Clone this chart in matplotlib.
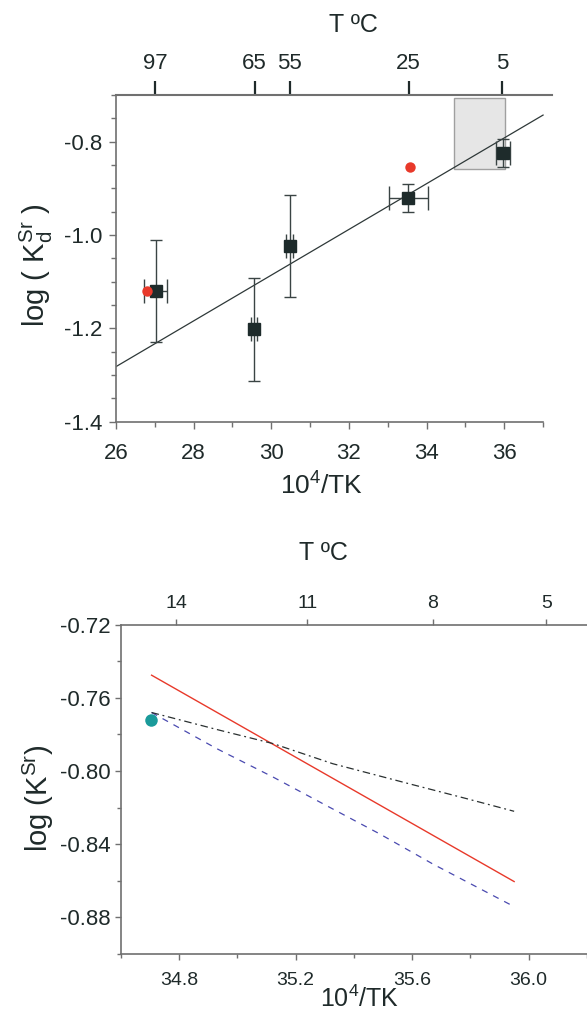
import matplotlib
matplotlib.use("Agg")
import matplotlib.pyplot as plt
from matplotlib.patches import Rectangle
from matplotlib.ticker import MultipleLocator

plt.rcParams['font.family'] = ['Liberation Sans', 'DejaVu Sans']
plt.rcParams['mathtext.fontset'] = 'custom'
plt.rcParams['mathtext.rm'] = 'Liberation Sans'
plt.rcParams['mathtext.it'] = 'Liberation Sans'

# ---------------- data: top panel ----------------
inv_T = [27.02, 29.56, 30.47, 33.53, 35.97]
log_kd = [-1.120, -1.202, -1.0235, -0.921, -0.824]
log_kd_err = [0.11, 0.11, 0.11, 0.03, 0.03]
inv_T_err = [0.30, 0.08, 0.08, 0.50, 0.18]
red_x = [26.80, 33.56]
red_y = [-1.120, -0.854]
fit_x = [26.0, 37.0]
fit_y = [-1.282, -0.743]
box_x = [34.70, 36.03]
box_y = [-0.858, -0.707]
top_tC = [97, 65, 55, 25, 5]
top_ticks = [1e4 / (t + 273.15) for t in top_tC]

# ---------------- data: bottom panel ----------------
red_line_x = [34.706, 35.95]
red_line_y = [-0.7476, -0.8604]
blue_x = [34.706, 34.929, 35.123, 35.305, 35.488, 35.671, 35.95]
blue_y = [-0.768, -0.7877, -0.8033, -0.8188, -0.8343, -0.8508, -0.8741]
black_x = [34.706, 34.94, 35.123, 35.328, 35.591, 35.785, 35.95]
black_y = [-0.768, -0.7777, -0.785, -0.796, -0.807, -0.815, -0.822]
teal_x = [34.704]
teal_y = [-0.7722]
bot_top_labels = ['14', '11', '8', '5']
bot_top_ticks = [34.79, 35.24, 35.67, 36.06]

TXT = '#1f2a2a'
SPN = '#707070'
W, H = 587, 1015
fig = plt.figure(figsize=(W / 100, H / 100), dpi=100)

# ================= top panel =================
ax1 = fig.add_axes([116 / W, 1 - 421.7 / H, (552 - 116) / W, (421.7 - 95) / H])
ax1.set_xlim(26, 37.23)
ax1.set_ylim(-1.4, -0.7)
ax1.add_patch(Rectangle((box_x[0], box_y[0]), box_x[1] - box_x[0], box_y[1] - box_y[0],
                        facecolor='#e6e6e6', edgecolor='#a0a0a0', lw=1.0, zorder=1))
ax1.plot(fit_x, fit_y, color='#2e3838', lw=0.9, zorder=2)
ax1.errorbar(inv_T, log_kd, yerr=log_kd_err, fmt='none', ecolor='#3a4444',
             elinewidth=1.0, capsize=4.3, capthick=1.0, zorder=3)
ax1.errorbar(inv_T, log_kd, xerr=inv_T_err, fmt='none', ecolor='#3a4444',
             elinewidth=1.0, capsize=8.3, capthick=1.0, zorder=3)
ax1.plot(inv_T, log_kd, 's', color='#1e2b2b', ms=8, zorder=4)
ax1.plot(red_x, red_y, 'o', color='#e8392a', ms=7.5, mec='none', zorder=5)

ax1.xaxis.set_minor_locator(MultipleLocator(1))
ax1.yaxis.set_minor_locator(MultipleLocator(0.05))
ax1.set_yticks([-1.4, -1.2, -1.0, -0.8])
ax1.set_yticklabels(['-1.4', '-1.2', '-1.0', '-0.8'])
ax1.set_xticks([26, 28, 30, 32, 34, 36])
ax1.set_xticklabels(['26', '28', '30', '32', '34', '36'])
ax1.tick_params(axis='both', which='major', direction='out', length=5, width=1,
                colors=SPN, labelcolor=TXT, labelsize=16)
ax1.tick_params(axis='both', which='minor', direction='out', length=3.5, width=1, colors=SPN)
ax1.tick_params(axis='x', pad=10)
ax1.tick_params(axis='y', pad=5)
ax1.spines['right'].set_visible(False)
ax1.spines['top'].set_visible(False)
for s in ['left', 'bottom']:
    ax1.spines[s].set_color(SPN)
    ax1.spines[s].set_linewidth(1.2)
ax1.spines['bottom'].set_bounds(26, 37)

ax1t = ax1.twiny()
ax1t.set_xlim(ax1.get_xlim())
ax1t.set_xticks(top_ticks)
ax1t.set_xticklabels([str(t) for t in top_tC])
ax1t.tick_params(axis='x', direction='out', length=10, width=1.6, color=TXT,
                 labelcolor=TXT, labelsize=16, pad=5)
for s in ['left', 'right', 'bottom']:
    ax1t.spines[s].set_visible(False)
ax1t.spines['top'].set_color(SPN)
ax1t.spines['top'].set_linewidth(1.5)

fig.text(353 / W, 1 - 25 / H, 'T ºC', ha='center', va='center', fontsize=18, color=TXT)
fig.text(322 / W, 1 - 486 / H, r'10$^{\mathregular{4}}$/TK', ha='center', va='center',
         fontsize=19, color=TXT)
fig.text(36 / W, 1 - 265 / H, r'log ( K$_{\mathregular{d}}^{\mathregular{Sr}}$ )',
         ha='center', va='center', rotation=90, fontsize=21, color=TXT)

# ================= bottom panel =================
ax2 = fig.add_axes([120.7 / W, 1 - 954 / H, (587 - 120.7) / W, (954 - 624.7) / H])
ax2.set_xlim(34.6, 36.2)
ax2.set_ylim(-0.90, -0.72)
ax2.plot(red_line_x, red_line_y, color='#e8392a', lw=1.0)
ax2.plot(blue_x, blue_y, color='#4a4ab0', lw=0.9, dashes=(5, 5))
ax2.plot(black_x, black_y, color='#2a3030', lw=0.9, dashes=(6, 3, 1.5, 3))
ax2.plot(teal_x, teal_y, 'o', color='#1a9a9a', ms=9, mec='none', zorder=5)

ax2.set_xticks([34.8, 35.2, 35.6, 36.0])
ax2.set_xticklabels(['34.8', '35.2', '35.6', '36.0'])
ax2.xaxis.set_minor_locator(MultipleLocator(0.2))
ax2.set_yticks([-0.88, -0.84, -0.80, -0.76, -0.72])
ax2.set_yticklabels(['-0.88', '-0.84', '-0.80', '-0.76', '-0.72'])
ax2.yaxis.set_minor_locator(MultipleLocator(0.02))
ax2.tick_params(axis='both', which='major', direction='out', length=4, width=1,
                colors=SPN, labelcolor=TXT)
ax2.tick_params(axis='both', which='minor', direction='out', length=3, width=1, colors=SPN)
ax2.tick_params(axis='x', labelsize=14, pad=9)
ax2.tick_params(axis='y', labelsize=16, pad=3)
ax2.spines['right'].set_visible(False)
ax2.spines['top'].set_visible(False)
for s in ['left', 'bottom']:
    ax2.spines[s].set_color(SPN)
    ax2.spines[s].set_linewidth(1.2)

ax2t = ax2.twiny()
ax2t.set_xlim(ax2.get_xlim())
ax2t.set_xticks(bot_top_ticks)
ax2t.set_xticklabels(bot_top_labels)
ax2t.tick_params(axis='x', direction='out', length=4, width=1, color=SPN,
                 labelcolor=TXT, labelsize=14, pad=5)
for s in ['left', 'right', 'bottom']:
    ax2t.spines[s].set_visible(False)
ax2t.spines['top'].set_color(SPN)
ax2t.spines['top'].set_linewidth(1.2)

fig.text(323 / W, 1 - 553 / H, 'T ºC', ha='center', va='center', fontsize=18, color=TXT)
fig.text(360 / W, 1 - 1012 / H, r'10$^{\mathregular{4}}$/TK', ha='center', va='bottom',
         fontsize=18, color=TXT)
fig.text(38 / W, 1 - 798 / H, r'log (K$^{\mathregular{Sr}}$)',
         ha='center', va='center', rotation=90, fontsize=21, color=TXT)

fig.savefig('out.png', dpi=100)
